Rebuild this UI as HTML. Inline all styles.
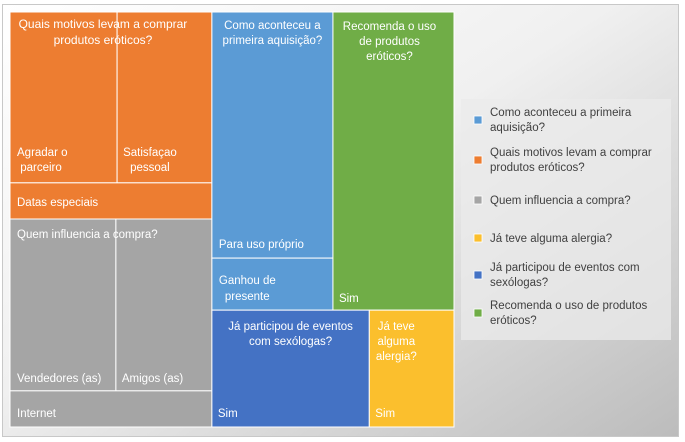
<!DOCTYPE html>
<html><head><meta charset="utf-8">
<style>
html,body{margin:0;padding:0;background:#fff;}
#wrap{position:relative;width:685px;height:442px;overflow:hidden;}
svg{position:absolute;left:0;top:0;}
text{font-family:"Liberation Sans",sans-serif;}
</style></head>
<body>
<div id="wrap">
<svg id="chart" width="685" height="442">
  <defs>
    <linearGradient id="bg" x1="0" y1="0" x2="1" y2="1">
      <stop offset="0" stop-color="#ffffff"/>
      <stop offset="0.45" stop-color="#f0f0f0"/>
      <stop offset="1" stop-color="#bcbcbc"/>
    </linearGradient>
  </defs>
  <rect x="2.5" y="4.5" width="676" height="432" fill="url(#bg)" stroke="#c8c8c8"/>
  <g id="tiles"></g>
  <g id="legend"></g>
</svg>
</div>
<script>
// Data (values read as relative areas)
const groupNames = ["Quais motivos levam a comprar produtos eróticos?","Quem influencia a compra?","Como aconteceu a primeira aquisição?","Recomenda o uso de produtos eróticos?","Já participou de eventos com sexólogas?","Já teve alguma alergia?"];
const orangeLabels = ["Agradar o parceiro","Satisfaçao pessoal","Datas especiais"];
const orangeValues = [18.3, 16.2, 7.3];
const grayLabels = ["Vendedores (as)","Amigos (as)","Internet"];
const grayValues = [18.2, 16.5, 7.3];
const lightBlueLabels = ["Para uso próprio","Ganhou de presente"];
const lightBlueValues = [29.8, 6.3];
const greenValues = [36.1];
const darkBlueValues = [18.4];
const yellowValues = [9.9];
const legendLabels = ["Como aconteceu a primeira aquisição?","Quais motivos levam a comprar produtos eróticos?","Quem influencia a compra?","Já teve alguma alergia?","Já participou de eventos com sexólogas?","Recomenda o uso de produtos eróticos?"];

const C = {orange:"#ED7D31",gray:"#A5A5A5",lblue:"#5B9BD5",green:"#70AD47",dblue:"#4472C4",yellow:"#FBBF2D"};
const PX=10, PY=12, PW=444, PH=415;
const NS="http://www.w3.org/2000/svg";
const tiles=document.getElementById('tiles');
const sum=a=>a.reduce((s,v)=>s+v,0);

function rect(x,y,w,h,fill,name){
  const r=document.createElementNS(NS,'rect');
  r.setAttribute('x',x);r.setAttribute('y',y);r.setAttribute('width',w);r.setAttribute('height',h);
  r.setAttribute('fill',fill);r.setAttribute('stroke','#ffffff');r.setAttribute('stroke-width','1');
  
  
  tiles.appendChild(r);
}
function label(lines,x,y,anchor,name,parent,color,size){
  const t=document.createElementNS(NS,'text');
  t.setAttribute('x',x);t.setAttribute('y',y);t.setAttribute('text-anchor',anchor||'start');
  t.setAttribute('fill',color||'#ffffff');t.setAttribute('font-size',size||'11.5');
  
  
  lines.forEach((l,i)=>{const s=document.createElementNS(NS,'tspan');s.setAttribute('x',x);if(i)s.setAttribute('dy','15');s.textContent=l;t.appendChild(s);});
  (parent||tiles).appendChild(t);
}
// layout
const oT=sum(orangeValues), gT=sum(grayValues), lbT=sum(lightBlueValues), grT=sum(greenValues), dbT=sum(darkBlueValues), yT=sum(yellowValues);
const total=oT+gT+lbT+grT+dbT+yT;
const leftW=PW*(oT+gT)/total;
const leftH_o=PH*oT/(oT+gT);
function group3(vals,labs,x,y,w,h,color,prefix){
  const t=sum(vals);
  const rowH=h*(vals[0]+vals[1])/t;
  const w0=w*vals[0]/(vals[0]+vals[1]);
  rect(x,y,w0,rowH,color,prefix+'-tile-1');
  rect(x+w0,y,w-w0,rowH,color,prefix+'-tile-2');
  rect(x,y+rowH,w,h-rowH,color,prefix+'-tile-3');
  return {w0,rowH};
}
const o=group3(orangeValues,orangeLabels,PX,PY,leftW,leftH_o,C.orange,'orange');
const g=group3(grayValues,grayLabels,PX,PY+leftH_o,leftW,PH-leftH_o,C.gray,'gray');
const rx=PX+leftW, rw=PW-leftW;
const topH=PH*(lbT+grT)/(total-oT-gT);
const lbW=rw*lbT/(lbT+grT);
const lbH1=topH*lightBlueValues[0]/lbT;
rect(rx,PY,lbW,lbH1,C.lblue,'light-blue-tile-1');
rect(rx,PY+lbH1,lbW,topH-lbH1,C.lblue,'light-blue-tile-2');
rect(rx+lbW,PY,rw-lbW,topH,C.green,'green-tile');
const dbW=rw*dbT/(dbT+yT);
rect(rx,PY+topH,dbW,PH-topH,C.dblue,'dark-blue-tile');
rect(rx+dbW,PY+topH,rw-dbW,PH-topH,C.yellow,'yellow-tile');

// labels
label(["Quais motivos levam a comprar"],PX+leftW/2-8,PY+16,'middle','orange-group-label',null,null,'12');
label(["produtos eróticos?"],PX+leftW/2-8,PY+32,'middle','orange-group-label-2',null,null,'12');
label(["Agradar o"," parceiro"],PX+7,PY+o.rowH-27,'start','agradar-label');
label(["Satisfaçao"],PX+o.w0+6,PY+o.rowH-27,'start','satisfacao-label');
label(["pessoal"],PX+o.w0+13,PY+o.rowH-12,'start','satisfacao-label-2');
label([orangeLabels[2]],PX+7,PY+leftH_o-13,'start','datas-label');
const gy=PY+leftH_o;
label(["Quem influencia a compra?"],PX+7,gy+19,'start','gray-group-label');
label([grayLabels[0]],PX+7,gy+g.rowH-9,'start','vendedores-label');
label([grayLabels[1]],PX+g.w0+6,gy+g.rowH-9,'start','amigos-label');
label([grayLabels[2]],PX+7,PY+PH-10,'start','internet-label');
label(["Como aconteceu a","primeira aquisição?"],rx+lbW/2,PY+17,'middle','light-blue-group-label');
label([lightBlueLabels[0]],rx+7,PY+lbH1-10,'start','para-uso-label');
label(["Ganhou de"],rx+7,PY+lbH1+26,'start','ganhou-label');
label(["presente"],rx+13,PY+lbH1+42,'start','ganhou-label-2');
label(["Recomenda o uso","de produtos","eróticos?"],rx+lbW+(rw-lbW)/2-4,PY+18,'middle','green-group-label');
label(["Sim"],rx+lbW+6,PY+topH-8,'start','green-sim-label');
label(["Já participou de eventos","com sexólogas?"],rx+dbW/2,PY+topH+20,'middle','dark-blue-group-label');
label(["Sim"],rx+6,PY+PH-10,'start','dark-blue-sim-label');
label(["Já teve","alguma","alergia?"],rx+dbW+27,PY+topH+20,'middle','yellow-group-label');
label(["Sim"],rx+dbW+6,PY+PH-10,'start','yellow-sim-label');

// legend
const lg=document.getElementById('legend');
const box=document.createElementNS(NS,'rect');
box.setAttribute('x',461);box.setAttribute('y',99);box.setAttribute('width',210);box.setAttribute('height',241);
box.setAttribute('fill','#ebebeb');box.setAttribute('fill-opacity','0.75');


lg.appendChild(box);
const legendColors=[C.lblue,C.orange,C.gray,C.yellow,C.dblue,C.green];
const legendLines=[["Como aconteceu a primeira","aquisição?"],["Quais motivos levam a comprar","produtos eróticos?"],["Quem influencia a compra?"],["Já teve alguma alergia?"],["Já participou de eventos com","sexólogas?"],["Recomenda o uso de produtos","eróticos?"]];
const legendY=[120,160,200,238,275,313];
legendLabels.forEach((lab,i)=>{
  const sq=document.createElementNS(NS,'rect');
  sq.setAttribute('x',474);sq.setAttribute('y',legendY[i]-4);sq.setAttribute('width',8);sq.setAttribute('height',8);
  sq.setAttribute('fill',legendColors[i]);sq.setAttribute('stroke','#fff');sq.setAttribute('stroke-width','0.8');
  
  
  lg.appendChild(sq);
  const lines=legendLines[i];
  const y0=lines.length>1?legendY[i]-4:legendY[i]+4;
  label(lines,490,y0,'start','legend-entry',lg,'#404040','11.5');
});
</script>
</body></html>
